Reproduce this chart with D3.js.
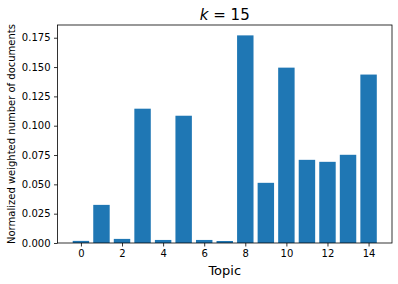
<!DOCTYPE html>
<html>
<head>
<style>
  body { margin: 0; background: #fff; }
  svg { display: block; font-family: "DejaVu Sans", sans-serif; }
</style>
</head>
<body>
<svg id="chart" width="398" height="284"></svg>
<script src="https://d3js.org/d3.v7.min.js"></script>
<script>
var topics = [0, 1, 2, 3, 4, 5, 6, 7, 8, 9, 10, 11, 12, 13, 14];
var weights = [0.0018, 0.0325, 0.0035, 0.1145, 0.0026, 0.1085, 0.0026, 0.0017,
               0.1770, 0.0513, 0.1495, 0.0709, 0.0692, 0.0752, 0.1436];
var xTicks = [0, 2, 4, 6, 8, 10, 12, 14];
var yTicks = [0, 0.025, 0.05, 0.075, 0.1, 0.125, 0.15, 0.175];

var svg = d3.select("#chart"),
    plotLeft = 57.5, plotRight = 392, plotTop = 25, plotBottom = 243;

// matplotlib style: 5% margins around the bars
var x = d3.scaleLinear().domain([-0.4 - 0.74, 14.4 + 0.74]).range([plotLeft, plotRight]);
var y = d3.scaleLinear().domain([0, d3.max(weights) * 1.05]).range([plotBottom, plotTop]);

svg.append("g")
  .selectAll("rect")
  .data(topics)
  .enter().append("rect")
    .attr("x", function(d) { return x(d - 0.4); })
    .attr("width", function(d) { return x(d + 0.4) - x(d - 0.4); })
    .attr("y", function(d, i) { return y(weights[i]); })
    .attr("height", function(d, i) { return plotBottom - y(weights[i]); })
    .attr("fill", "#1f77b4");

var xAxis = svg.append("g")
  .attr("transform", "translate(0," + plotBottom + ")")
  .call(d3.axisBottom(x).tickValues(xTicks).tickSize(3.5).tickPadding(3.5).tickFormat(d3.format("d")));

var yAxis = svg.append("g")
  .attr("transform", "translate(" + plotLeft + ",0)")
  .call(d3.axisLeft(y).tickValues(yTicks).tickSize(3.5).tickPadding(3.5).tickFormat(d3.format(".3f")));

[xAxis, yAxis].forEach(function(a) {
  a.select(".domain").remove();
  a.selectAll(".tick line").attr("stroke", "#000").attr("stroke-width", 0.8);
  a.selectAll(".tick text").attr("font-size", 10).attr("font-family", "DejaVu Sans").attr("fill", "#000");
});

// spines
svg.append("rect")
  .attr("x", plotLeft).attr("y", plotTop)
  .attr("width", plotRight - plotLeft).attr("height", plotBottom - plotTop)
  .attr("fill", "none").attr("stroke", "#000").attr("stroke-width", 0.8);

// title
var title = svg.append("text")
  .attr("x", (plotLeft + plotRight) / 2).attr("y", 20)
  .attr("text-anchor", "middle")
  .attr("font-size", 15)
  .attr("fill", "#000");
title.append("tspan").attr("font-style", "italic").text("k");
title.append("tspan").text(" = 15");

svg.append("text")
  .attr("x", (plotLeft + plotRight) / 2).attr("y", 275)
  .attr("text-anchor", "middle")
  .attr("font-size", 13)
  .attr("fill", "#000")
  .text("Topic");

svg.append("text")
  .attr("transform", "translate(15," + (plotTop + plotBottom) / 2 + ") rotate(-90)")
  .attr("text-anchor", "middle")
  .attr("font-size", 10)
  .attr("fill", "#000")
  .text("Normalized weighted number of documents");
</script>
</body>
</html>
